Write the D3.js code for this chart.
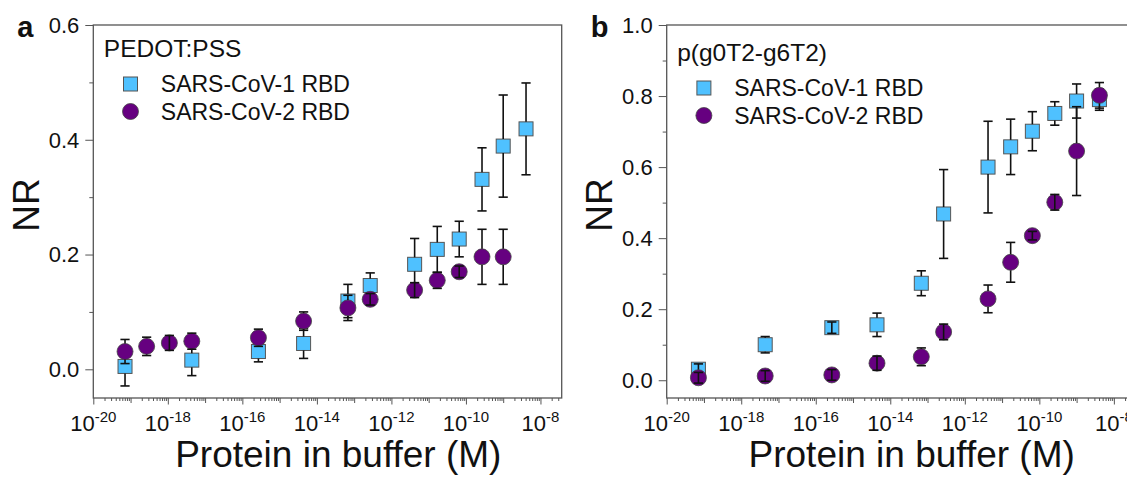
<!DOCTYPE html>
<html><head><meta charset="utf-8">
<script src="https://cdn.jsdelivr.net/npm/d3@7"></script>
<style>
html,body{margin:0;padding:0;background:#fff;}
svg{display:block;font-family:"Liberation Sans",Arial,sans-serif;}
</style></head>
<body>
<svg id="chart" width="1127" height="477"></svg>
<script>
// ---------- DATA ----------
const concA_cov1 = [7.1e-20, 4.4e-18, 2.7e-16, 4.4e-15, 6.8e-14, 2.7e-13, 4.2e-12, 1.7e-11, 6.6e-11, 2.7e-10, 1.0e-9, 4.1e-9];
const nrA_cov1   = [0.005, 0.016, 0.031, 0.045, 0.119, 0.146, 0.183, 0.209, 0.227, 0.331, 0.389, 0.419];
const errA_cov1  = [0.034, 0.027, 0.018, 0.026, 0.029, 0.022, 0.045, 0.040, 0.031, 0.055, 0.089, 0.080];

const concA_cov2 = [7.1e-20, 2.7e-19, 1.1e-18, 4.4e-18, 2.7e-16, 4.4e-15, 6.8e-14, 2.7e-13, 4.2e-12, 1.7e-11, 6.6e-11, 2.7e-10, 1.0e-9];
const nrA_cov2   = [0.031, 0.040, 0.046, 0.049, 0.055, 0.084, 0.107, 0.122, 0.138, 0.155, 0.170, 0.196, 0.196];
const errA_cov2  = [0.021, 0.016, 0.013, 0.014, 0.015, 0.016, 0.022, 0.010, 0.013, 0.014, 0.010, 0.048, 0.048];

const concB      = [7.1e-20, 4.4e-18, 2.7e-16, 4.4e-15, 6.8e-14, 2.7e-13, 4.2e-12, 1.7e-11, 6.5e-11, 2.6e-10, 1.0e-9, 4.1e-9];
const nrB_cov1   = [0.031, 0.100, 0.148, 0.156, 0.273, 0.468, 0.600, 0.657, 0.701, 0.751, 0.786, 0.790];
const errB_cov1  = [0.015, 0.023, 0.016, 0.033, 0.035, 0.125, 0.129, 0.078, 0.055, 0.033, 0.048, 0.030];
const nrB_cov2   = [0.007, 0.012, 0.015, 0.048, 0.066, 0.136, 0.229, 0.332, 0.407, 0.501, 0.645, 0.802];
const errB_cov2  = [0.015, 0.015, 0.015, 0.020, 0.025, 0.022, 0.039, 0.056, 0.012, 0.022, 0.125, 0.036];

const seriesNames = ["SARS-CoV-1 RBD", "SARS-CoV-2 RBD"];
const panelTitles = ["PEDOT:PSS", "p(g0T2-g6T2)"];
const panelLetters = ["a", "b"];
const xMajorExps = [-20, -18, -16, -14, -12, -10, -8];
const yTicksA = [0.0, 0.2, 0.4, 0.6];
const yTicksB = [0.0, 0.2, 0.4, 0.6, 0.8, 1.0];
const xTitle = "Protein in buffer (M)";
const yTitle = "NR";

// ---------- STYLE ----------
const BLUE = "#4fc1ff", PURPLE = "#660080", FRAME = "#555";
const svg = d3.select("#chart");

function zip(c, v, e){ return c.map((x,i)=>({x, y:v[i], e:e[i]})); }

const panels = [
  {left:93.3, letter:panelLetters[0], title:panelTitles[0], yDomain:[-0.05,0.6], yTicks:yTicksA, yMinorStep:0.1,
   s1:zip(concA_cov1,nrA_cov1,errA_cov1), s2:zip(concA_cov2,nrA_cov2,errA_cov2), legDy:0},
  {left:666.7, letter:panelLetters[1], title:panelTitles[1], yDomain:[-0.05,1.0], yTicks:yTicksB, yMinorStep:0.1,
   s1:zip(concB,nrB_cov1,errB_cov1), s2:zip(concB,nrB_cov2,errB_cov2), legDy:4}
];

const TOP = 25, BOTTOM = 398, WIDTH = 468.4;
const SQ = 14, R = 8, CAP = 4.6;

panels.forEach(p => {
  const g = svg.append("g");
  const x = d3.scaleLog().domain([1e-20, Math.pow(10,-7.43)]).range([p.left, p.left+WIDTH]);
  const y = d3.scaleLinear().domain(p.yDomain).range([BOTTOM, TOP]);

  // frame
  g.append("rect").attr("x",p.left).attr("y",TOP).attr("width",WIDTH).attr("height",BOTTOM-TOP)
    .attr("fill","none").attr("stroke",FRAME).attr("stroke-width",1.3);

  // x axis ticks
  const xMinor = [];
  for (let e=-20; e<-7; e++) for (let m=1; m<10; m++) {
    const v = m*Math.pow(10,e);
    if (v <= x.domain()[1]*1.0001) xMinor.push({v, m, e});
  }
  const xAxisG = g.append("g").attr("transform",`translate(0,${BOTTOM})`);
  xAxisG.call(d3.axisBottom(x).tickValues(xMinor.map(d=>d.v)).tickFormat("").tickSizeOuter(0).tickSize(3))
    .call(a=>a.select(".domain").remove());
  xAxisG.selectAll(".tick line").attr("stroke",FRAME).attr("stroke-width",1)
    .attr("y2",(d,i)=> xMinor[i].m===1 ? (xMinor[i].e%2===0 ? 6.5 : 5) : 3);

  // x tick labels 10^n
  xMajorExps.forEach(ex => {
    const t = g.append("text").attr("x", x(Math.pow(10,ex))).attr("y", 431)
      .attr("text-anchor","middle").attr("font-size",22).attr("fill","#111");
    t.append("tspan").text("10");
    t.append("tspan").attr("font-size",15).attr("dy",-9).text(String(ex));
  });

  // y axis
  const yMinor = d3.range(0, p.yDomain[1]+1e-9, p.yMinorStep);
  const yAxisG = g.append("g").attr("transform",`translate(${p.left},0)`);
  yAxisG.call(d3.axisLeft(y).tickValues(yMinor).tickFormat("").tickSize(4).tickSizeOuter(0))
    .call(a=>a.select(".domain").remove());
  yAxisG.selectAll(".tick line").attr("stroke",FRAME).attr("stroke-width",1)
    .attr("x2",(d)=> p.yTicks.some(t=>Math.abs(t-d)<1e-9) ? -8 : -4);
  p.yTicks.forEach(v => {
    g.append("text").attr("x",p.left-14).attr("y",y(v)).attr("dy","0.36em")
      .attr("text-anchor","end").attr("font-size",22).attr("fill","#111").text(v.toFixed(1));
  });

  // titles
  g.append("text").attr("transform",`translate(${p.left-68},${205}) rotate(-90)`)
    .attr("text-anchor","middle").attr("dy","0.36em").attr("font-size",37).attr("fill","#111").text(yTitle);
  g.append("text").attr("x",p.left+245).attr("y",467).attr("text-anchor","middle")
    .attr("font-size",37).attr("fill","#111").text(xTitle);
  g.append("text").attr("x",p.left-76).attr("y",37).attr("font-size",29).attr("font-weight","bold")
    .attr("fill","#111").text(p.letter);

  // legend
  const lg = g.append("g").attr("transform",`translate(${p.left},${p.legDy})`);
  lg.append("text").attr("x",10.5).attr("y",57).attr("font-size",24.5).attr("fill","#111").text(p.title);
  lg.append("rect").attr("x",37.2-SQ/2).attr("y",84-SQ/2).attr("width",SQ).attr("height",SQ)
    .attr("fill",BLUE).attr("stroke",FRAME).attr("stroke-width",1);
  lg.append("circle").attr("cx",37.2).attr("cy",111.5).attr("r",R).attr("fill",PURPLE).attr("stroke","#444").attr("stroke-width",0.8);
  lg.append("text").attr("x",67.5).attr("y",92).attr("font-size",23).attr("fill","#111").text(seriesNames[0]);
  lg.append("text").attr("x",67.5).attr("y",119.5).attr("font-size",23).attr("fill","#111").text(seriesNames[1]);

  // series
  function drawSeries(data, kind){
    const sg = g.append("g");
    const half = kind==="sq" ? SQ/2 : R;
    data.forEach(d => {
      const cx = x(d.x), cy = y(d.y);
      const yt = y(d.y + d.e), yb = y(d.y - d.e);
      if (kind==="sq") {
        sg.append("rect").attr("x",cx-SQ/2).attr("y",cy-SQ/2).attr("width",SQ).attr("height",SQ)
          .attr("fill",BLUE).attr("stroke",FRAME).attr("stroke-width",1);
      } else {
        sg.append("circle").attr("cx",cx).attr("cy",cy).attr("r",R)
          .attr("fill",PURPLE).attr("stroke","#444").attr("stroke-width",0.8);
      }
      const eg = sg.append("g").attr("stroke","#111").attr("stroke-width",1.6);
      if (cy - yt > half) {
        eg.append("line").attr("x1",cx).attr("x2",cx).attr("y1",cy-half).attr("y2",yt);
        eg.append("line").attr("x1",cx).attr("x2",cx).attr("y1",cy+half).attr("y2",yb);
      } else {
        eg.append("line").attr("x1",cx).attr("x2",cx).attr("y1",yt).attr("y2",yb);
      }
      eg.append("line").attr("x1",cx-CAP).attr("x2",cx+CAP).attr("y1",yt).attr("y2",yt);
      eg.append("line").attr("x1",cx-CAP).attr("x2",cx+CAP).attr("y1",yb).attr("y2",yb);
    });
  }
  drawSeries(p.s1, "sq");
  drawSeries(p.s2, "ci");
});
</script>
</body></html>
